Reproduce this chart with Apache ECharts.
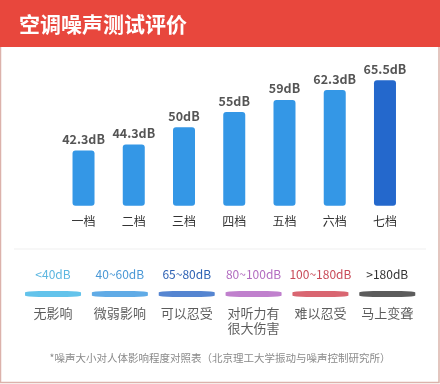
<!DOCTYPE html>
<html><head><meta charset="utf-8">
<script src="https://cdn.jsdelivr.net/npm/echarts@6/dist/echarts.min.js"></script>
<style>html,body{margin:0;padding:0;background:#fff}#c{width:440px;height:384px}</style>
</head><body><div id="c"></div>
<script>
const titleText = '空调噪声测试评价';
const categories = ['一档','二档','三档','四档','五档','六档','七档'];
const values = [42.3, 44.3, 50, 55, 59, 62.3, 65.5];
const barColors = ['#3497e6','#3497e6','#3497e6','#3497e6','#3497e6','#3497e6','#2468cc'];
const rangeLabels = ['<40dB','40~60dB','65~80dB','80~100dB','100~180dB','>180dB'];
const rangeTextColors = ['#5cb6e0','#4a98d6','#2e62b4','#b26cc0','#c84a58','#333333'];
const stripColors = ['#3cb4e6','#3896e0','#2a66c6','#b060c0','#d0404e','#333333'];
const effects = ['无影响','微弱影响','可以忍受','对听力有\n很大伤害','难以忍受','马上变聋'];
const footnote = '*噪声大小对人体影响程度对照表（北京理工大学振动与噪声控制研究所）';

const FONT = '"Noto Sans CJK SC", "Noto Sans", sans-serif';
const chart = echarts.init(document.getElementById('c'), null, {renderer:'canvas'});
chart.setOption({
  backgroundColor: '#ffffff',
  animation: false,
  textStyle: {fontFamily: FONT},
  title: {
    text: titleText, left: 14, top: 9,
    textStyle: {color:'#ffffff', fontSize: 21, fontWeight: 'bold', fontFamily: FONT}
  },
  graphic: [
    {type:'rect', z:-1, shape:{x:0.5,y:46,width:438.5,height:336.5}, style:{fill:'#ffffff', stroke:'#dcb2ab', lineWidth:1.5}},
    {type:'rect', z:0, shape:{x:0,y:0,width:440,height:47}, style:{fill:'#e8473d'}},
    {type:'line', shape:{x1:14,y1:249,x2:426,y2:249}, style:{stroke:'#efefef', lineWidth:1}},
    {type:'text', left:'center', top:353, style:{text: footnote, fill:'#8a8a8a', font:'10.5px ' + FONT}}
  ],
  grid: [
    {left: 58.4, right: 29.9, top: 60.7, bottom: 178.3},
    {left: 19.6, right: 19.3, top: 288, height: 12}
  ],
  xAxis: [
    {type:'category', gridIndex:0, data: categories,
     axisLine:{show:false}, axisTick:{show:false},
     axisLabel:{color:'#333', fontSize:12, margin:10, fontFamily: FONT}},
    {type:'category', gridIndex:1, data: rangeLabels, position:'top',
     axisLine:{show:false}, axisTick:{show:false},
     axisLabel:{fontSize:12, margin:8, fontFamily: FONT, interval:0,
       color: function(v, i){ return rangeTextColors[i]; }}}
  ],
  yAxis: [
    {type:'value', gridIndex:0, min:24, max:72, show:false},
    {type:'value', gridIndex:1, min:-1, max:1, show:false}
  ],
  series: [
    {type:'bar', xAxisIndex:0, yAxisIndex:0, barWidth:22,
     data: values.map((v,i)=>({value:v, itemStyle:{color:barColors[i], borderRadius:3}})),
     label:{show:true, position:'top', distance:5, color:'#555', fontSize:12.5, fontWeight:'bold', fontFamily: FONT,
       formatter: p => p.value + 'dB'}},
    {type:'scatter', xAxisIndex:1, yAxisIndex:1, symbol:'roundRect', symbolSize:[56,6],
     data: rangeLabels.map((r,i)=>({value:[i,0], itemStyle:{color:stripColors[i]},
       label:{formatter: effects[i]}})),
     label:{show:true, position:'bottom', distance:9, color:'#333', fontSize:13, lineHeight:15, fontFamily: FONT}}
  ]
});
</script></body></html>
